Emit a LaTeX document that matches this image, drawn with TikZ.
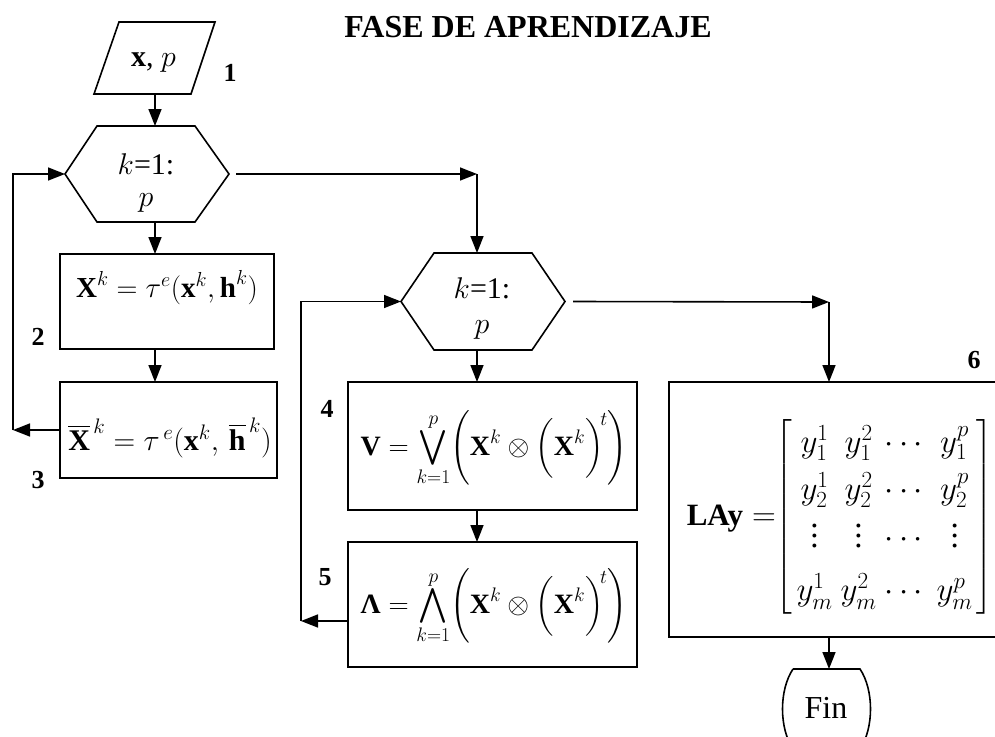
\RequirePackage{fix-cm}
\documentclass[tikz,border=0pt]{standalone}
\usepackage{amsmath}
\usepackage{fontspec}
\setmainfont{Liberation Serif}
\usetikzlibrary{arrows.meta}
\newcommand{\myy}[2]{y_{#1}^{#2}}
\newcommand{\bX}{\textbf{X}}
\newcommand{\myvdots}{\vbox{\baselineskip=10pt\lineskiplimit=0pt\kern2pt\hbox{.}\hbox{.}\hbox{.}}}
\newcommand{\smallvee}{\mathop{\vcenter{\hbox{\scalebox{1.4}{$\textstyle\bigvee$}}}}\limits}
\newcommand{\smallwedge}{\mathop{\vcenter{\hbox{\scalebox{1.4}{$\textstyle\bigwedge$}}}}\limits}
\begin{document}
\begin{tikzpicture}[x=1pt,y=-1pt,
  ln/.style={line width=1.6pt},
  arr/.style={line width=1.6pt,-{Triangle[length=17pt,width=13pt]}},
  box/.style={draw,line width=1.6pt,inner sep=0pt,outer sep=0pt},
  lab/.style={font=\fontsize{26}{30}\selectfont\bfseries,inner sep=0pt,anchor=base},
  txt/.style={font=\fontsize{30}{34}\selectfont,inner sep=0pt,anchor=base},
  hidden/.style={inner sep=0pt,outer sep=0pt}]
\useasboundingbox (0,0) rectangle (995,736);
\clip (0,0) rectangle (995,736);

% title
\node[txt,font=\fontsize{32}{36}\selectfont\bfseries] (title) at (528,37) {FASE DE APRENDIZAJE};

% input parallelogram
\node[hidden,minimum width=97pt,minimum height=72pt] (in) at (155,58) {};
\draw[ln] (119,22) -- (215,22) -- (191,94) -- (94,94) -- cycle;
\node[txt] (int) at (153.5,66) {\textbf{x}, $p$};
\node[lab] (l1) at (230,81) {1};

% hexagon A
\node[hidden,minimum width=164pt,minimum height=96pt] (hA) at (147,174) {};
\draw[ln] (hA.west) -- ([xshift=32pt]hA.north west) -- ([xshift=-34pt]hA.north east) -- (hA.east)
  -- ([xshift=-34pt]hA.south east) -- ([xshift=32pt]hA.south west) -- cycle;
\node[txt] (hAk) at (146,174) {$k$=1:};
\node[txt] (hAp) at (146,206) {$p$};

% box 2
\node[box,minimum width=214pt,minimum height=95pt] (b2) at (167,301.5) {};
\node[txt,font=\fontsize{29}{34}\selectfont] (f2) at (167,297) {$\bX^{k} = \tau^{e}(\textbf{x}^{k},\textbf{h}^{k})$};
\node[lab] (l2) at (38,345) {2};

% box 3
\node[box,minimum width=217pt,minimum height=96pt] (b3) at (168.5,430) {};
\node[txt] (f3) at (170,450) {$\overline{\bX}^{\,k} = \tau^{\,e}(\textbf{x}^{k},\,\overline{\textbf{h}}^{\,k})$};
\node[lab] (l3) at (38,488) {3};

% connectors left column
\draw[arr] (in.south) -- (hA.north -| in.south);
\draw[arr] (hA.south -| in.south) -- (b2.north -| in.south);
\draw[arr] (b2.south -| in.south) -- (b3.north -| in.south);
\coordinate (la) at (13,430);
\draw[arr] (b3.west) -- (la);
\draw[arr] (la) -- (la |- hA.west) -- (hA.west);

% hexagon B
\node[hidden,minimum width=164pt,minimum height=97pt] (hB) at (483,301.5) {};
\draw[ln] (hB.west) -- ([xshift=33pt]hB.north west) -- ([xshift=-33pt]hB.north east) -- (hB.east)
  -- ([xshift=-33pt]hB.south east) -- ([xshift=33pt]hB.south west) -- cycle;
\node[txt] (hBk) at (482,298) {$k$=1:};
\node[txt] (hBp) at (482,333) {$p$};

\coordinate (ca) at (477,174);
\draw[arr] ([xshift=7pt]hA.east) -- (ca);
\draw[arr] (ca) -- (ca |- hB.north);

% box 4
\node[box,minimum width=289pt,minimum height=128pt] (b4) at (492.5,446) {};
\node[txt,font=\fontsize{28}{32}\selectfont] (f4) at (494,455) {$\displaystyle \textbf{V} = \smallvee_{k=1}^{p} \biggl(\bX^{k} \otimes \Bigl(\bX^{k}\Bigr)^{\!t}\biggr)$};
\node[lab] (l4) at (327,417) {4};

% box 5
\node[box,minimum width=289pt,minimum height=125pt] (b5) at (492.5,604.5) {};
\node[txt,font=\fontsize{28}{32}\selectfont] (f5) at (494,613) {$\displaystyle \textbf{Λ} = \smallwedge_{k=1}^{p} \biggl(\bX^{k} \otimes \Bigl(\bX^{k}\Bigr)^{\!t}\biggr)$};
\node[lab] (l5) at (325,585) {5};

\draw[arr] (hB.south -| ca) -- (b4.north -| ca);
\draw[arr] (b4.south -| ca) -- (b5.north -| ca);
\coordinate (lb) at (301,621);
\draw[arr] (b5.west |- lb) -- (lb);
\draw[arr] (lb) -- (lb |- hB.west) -- (hB.west);

% box 6
\coordinate (cb) at (829,302);
\draw[arr] ([xshift=8pt]hB.east) -- (cb);
\node[box,minimum width=336pt,minimum height=255pt] (b6) at (837,509.5) {};
\draw[arr] (cb) -- (cb |- b6.north);
\node[inner sep=0pt,font=\fontsize{33}{34}\selectfont] (f6) at (840,517) {\setlength{\arraycolsep}{4pt}\renewcommand{\arraystretch}{1.4}%
$\text{\fontsize{31}{34}\selectfont\bfseries LAy} \mathrel{=}\mkern-5mu \left[\begin{array}{cccc}
\myy{1}{1} & \myy{1}{2} & \cdots & \myy{1}{p}\\
\myy{2}{1} & \myy{2}{2} & \cdots & \myy{2}{p}\\
\myvdots & \myvdots & \cdots & \myvdots\\[6pt]
\myy{m}{1} & \myy{m}{2} & \cdots & \myy{m}{p}
\end{array}\right]$};
\node[lab] (l6) at (974,368) {6};

% Fin
\node[hidden,minimum width=78pt,minimum height=80pt] (fin) at (826.5,709) {};
\draw[ln] (793,669) -- (860,669) .. controls (874,690) and (874,728) .. (860,749) -- (793,749)
  .. controls (779,728) and (779,690) .. (793,669);
\node[txt,font=\fontsize{32}{36}\selectfont] (fint) at (826,718) {Fin};
\draw[arr] (b6.south -| cb) -- (fin.north -| cb);
\end{tikzpicture}
\end{document}
